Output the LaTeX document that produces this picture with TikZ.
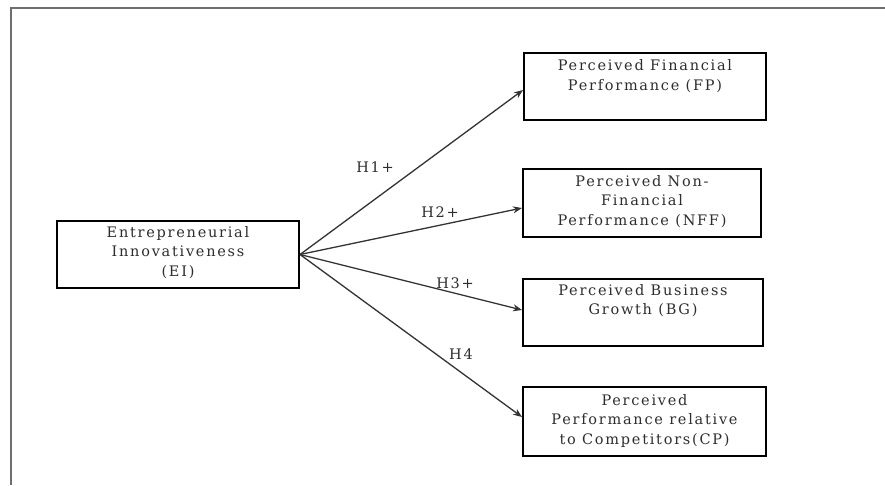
\documentclass[tikz,border=0pt]{standalone}
\usepackage{fontspec}
\setmainfont{DejaVu Serif}
\newfontfamily\spaced[LetterSpace=12]{DejaVu Serif}
\usetikzlibrary{calc,arrows.meta}
\definecolor{txt}{RGB}{45,45,45}
\definecolor{frame}{RGB}{110,110,110}
\begin{document}
\begin{tikzpicture}[x=1pt,y=-1pt,
  box/.style={draw=black,line width=2pt,inner sep=0pt},
  lbl/.style={text=txt,align=center,font=\spaced\fontsize{14.5}{19.5}\selectfont,anchor=north,inner sep=0pt},
  hyp/.style={text=txt,font=\spaced\fontsize{14.5}{16}\selectfont,inner sep=0pt},
  arr/.style={draw=black!80,line width=1.3pt,-{Stealth[length=9pt,width=7pt]}}]
\useasboundingbox (0,0) rectangle (885,485);
\draw[frame,line width=2.2pt] (11,485) -- (11,8) -- (885,8);
% boxes
\node[box,minimum width=242pt,minimum height=67pt] (ei) at (178,254.5) {};
\node[box,minimum width=242pt,minimum height=67pt] (fp) at (645,86.5) {};
\node[box,minimum width=238pt,minimum height=68pt] (nff) at (642,203) {};
\node[box,minimum width=240pt,minimum height=67pt] (bg) at (643,312.5) {};
\node[box,minimum width=243pt,minimum height=69pt] (cp) at (644.5,421.5) {};
% texts
\node[lbl] (tei) at (178,226) {Entrepreneurial\\Innovativeness\\(EI)};
\node[lbl] (tfp) at (645,59.5) {Perceived Financial\\Performance (FP)};
\node[lbl] (tnff) at (642,175) {Perceived Non-\\Financial\\Performance (NFF)};
\node[lbl] (tbg) at (643,284) {Perceived Business\\Growth (BG)};
\node[lbl] (tcp) at (644.5,394) {Perceived\\Performance relative\\to Competitors(CP)};
% arrows
\coordinate (o) at (ei.east);
\draw[arr] (o) -- ($(fp.west)+(0,3.5)$);
\draw[arr] (o) -- ($(nff.west)+(0,5)$);
\draw[arr] (o) -- ($(bg.west)+(0,-2.5)$);
\draw[arr] (o) -- ($(cp.west)+(0,-4.5)$);
% hypotheses
\node[hyp] (h1) at (375,167) {H1+};
\node[hyp] (h2) at (440,212) {H2+};
\node[hyp] (h3) at (455,283) {H3+};
\node[hyp] (h4) at (461,354) {H4};
\end{tikzpicture}
\end{document}
